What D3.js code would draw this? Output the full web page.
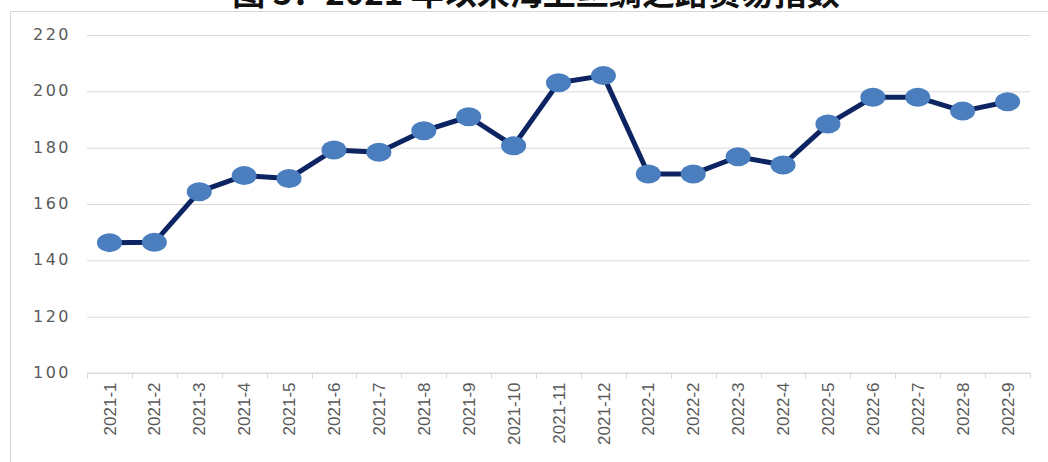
<!DOCTYPE html>
<html>
<head>
<meta charset="utf-8">
<script src="https://cdn.jsdelivr.net/npm/d3@7"></script>
<style>
	html, body { margin: 0; padding: 0; background: #fff; overflow: hidden; }
	svg { display: block; }
</style>
</head>
<body>
<svg width="1048" height="462"></svg>
<script>
(function() {
	"use strict"

	var months = ["2021-1", "2021-2", "2021-3", "2021-4", "2021-5", "2021-6", "2021-7", "2021-8", "2021-9", "2021-10", "2021-11", "2021-12",
			"2022-1", "2022-2", "2022-3", "2022-4", "2022-5", "2022-6", "2022-7", "2022-8", "2022-9"],
		indexValues = [146.1, 146.2, 164.2, 169.9, 168.9, 179.0, 178.2, 185.8, 190.8, 180.5, 202.9, 205.4,
			170.5, 170.5, 176.6, 173.7, 188.2, 197.7, 197.7, 192.8, 196.1],
		yTicks = [100, 120, 140, 160, 180, 200, 220],
		title = "图 3：2021 年以来海上丝绸之路贸易指数";

	var svg = d3.select("svg"),
		left = 87,
		right = 1030,
		top = 34.5,
		bottom = 372.5,
		gridColor = "#d9d9d9",
		labelColor = "#595959";

	var x = d3.scaleBand().domain(months).range([left, right]),
		y = d3.scaleLinear().domain([100, 220]).range([bottom, top]);

	// title, only its lower half shows in the crop
	svg.append("text")
		.attr("x", 536)
		.attr("y", 5)
		.attr("text-anchor", "middle")
		.style("font-family", "'Noto Sans CJK SC', sans-serif")
		.style("font-size", "33px")
		.style("font-weight", "bold")
		.style("fill", "#111")
		.text(title);

	// chart frame
	svg.append("rect")
		.attr("x", 10.5)
		.attr("y", 11.5)
		.attr("width", 1100)
		.attr("height", 500)
		.style("fill", "none")
		.style("stroke", gridColor);

	// y grid + labels
	var yAxis = svg.append("g")
		.attr("transform", "translate(" + left + ",0)")
		.call(d3.axisLeft(y).tickValues(yTicks).tickSize(-(right - left)).tickPadding(19));
	yAxis.select(".domain").remove();
	yAxis.selectAll("line")
		.attr("y1", 0.5).attr("y2", 0.5)
		.style("stroke", gridColor);
	yAxis.selectAll("text")
		.attr("x", -16)
		.style("font-family", "'DejaVu Sans', sans-serif")
		.style("font-size", "16px")
		.style("letter-spacing", "2.5px")
		.style("fill", labelColor);

	// x axis
	var xAxis = svg.append("g")
		.attr("transform", "translate(0," + bottom + ")")
		.call(d3.axisBottom(x).tickSize(0));
	xAxis.select(".domain")
		.attr("d", "M" + left + ",0.5H" + right)
		.style("stroke", gridColor);
	xAxis.selectAll("text")
		.attr("transform", "rotate(-90)")
		.attr("x", -10)
		.attr("y", 0)
		.attr("dy", "0.36em")
		.style("text-anchor", "end")
		.style("font-family", "'Liberation Sans', Arial, sans-serif")
		.style("font-size", "17px")
		.style("fill", labelColor);

	var boundaries = months.map(function(d) { return x(d); }).concat([right]);
	xAxis.selectAll(".bound")
		.data(boundaries)
		.enter()
		.append("line")
			.attr("class", "bound")
			.attr("x1", function(d) { return Math.round(d) + 0.5; })
			.attr("x2", function(d) { return Math.round(d) + 0.5; })
			.attr("y1", 0)
			.attr("y2", 6)
			.style("stroke", gridColor);

	// series
	var line = d3.line()
		.x(function(d, i) { return x(months[i]) + x.bandwidth() / 2; })
		.y(function(d) { return y(d); });

	svg.append("path")
		.datum(indexValues)
		.attr("d", line)
		.style("fill", "none")
		.style("stroke", "#0c2461")
		.style("stroke-width", 5)
		.style("stroke-linejoin", "round");

	svg.selectAll(".dot")
		.data(indexValues)
		.enter()
		.append("ellipse")
			.attr("class", "dot")
			.attr("cx", function(d, i) { return x(months[i]) + x.bandwidth() / 2; })
			.attr("cy", function(d) { return y(d); })
			.attr("rx", 12.5)
			.attr("ry", 9.5)
			.style("fill", "#4a7ebf");
})();
</script>
</body>
</html>
